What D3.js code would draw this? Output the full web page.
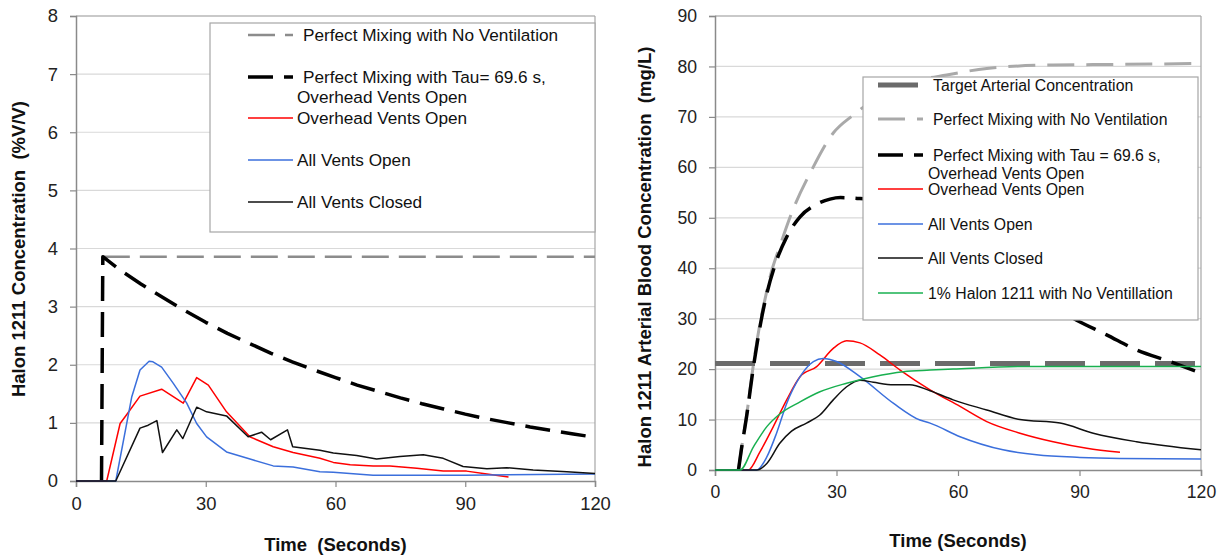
<!DOCTYPE html>
<html><head><meta charset="utf-8">
<script src="https://cdn.jsdelivr.net/npm/d3@7"></script>
<style>
html,body{margin:0;padding:0;background:#fff;}
svg{display:block;font-family:Arial,"Liberation Sans",sans-serif;}
text{white-space:pre;}
</style></head>
<body>
<svg id="c" width="1225" height="557"></svg>
<script>
// ---------- DATA ----------
const xTicks = [0, 30, 60, 90, 120];
const leftYTicks = [0, 1, 2, 3, 4, 5, 6, 7, 8];
const rightYTicks = [0, 10, 20, 30, 40, 50, 60, 70, 80, 90];

// Left chart: Halon 1211 concentration (%V/V) vs time (s)
const leftNoVent = [[6.2,3.86],[120,3.86]];
const leftTau = [[5.9,0],[6.2,3.86],[10,3.64],[15,3.39],[20,3.16],[25,2.94],[30,2.73],[35,2.54],[40,2.37],[45,2.20],[50,2.05],[55,1.91],[60,1.78],[65,1.65],[70,1.54],[75,1.43],[80,1.33],[85,1.24],[90,1.15],[95,1.07],[100,1.00],[105,0.93],[110,0.87],[115,0.81],[120,0.75]];
const leftOverhead = [[0,0],[7.1,0],[10.2,0.99],[11.7,1.14],[14.8,1.46],[19.8,1.58],[24.8,1.34],[27.9,1.78],[30.6,1.65],[34.8,1.19],[40.2,0.76],[45.6,0.59],[50.2,0.49],[56.4,0.39],[59.5,0.32],[63.4,0.28],[68.7,0.26],[72.6,0.26],[78.8,0.22],[84.9,0.17],[90.3,0.17],[95,0.12],[100,0.07]];
const leftAllOpen = [[0,0],[9.2,0],[12.9,1.45],[14.8,1.91],[16.9,2.06],[17.8,2.05],[19.8,1.96],[22.5,1.68],[25.6,1.34],[27.9,0.99],[30.2,0.76],[34.8,0.50],[41,0.36],[45.6,0.26],[50.2,0.24],[56.4,0.16],[59.5,0.15],[68.7,0.10],[90,0.10],[120,0.12]];
const leftAllClosed = [[0,0],[9.2,0],[14.8,0.91],[16.7,0.96],[18.7,1.04],[20.0,0.49],[23.3,0.88],[24.7,0.73],[27.9,1.27],[30.2,1.19],[34.8,1.12],[39.8,0.76],[42.9,0.84],[45,0.71],[48.9,0.88],[50.1,0.59],[56.4,0.53],[59.5,0.48],[64.9,0.44],[69.5,0.38],[74.9,0.42],[80.3,0.45],[84.9,0.39],[89.5,0.25],[95,0.21],[99.6,0.23],[105.7,0.19],[113.5,0.16],[120,0.13]];

// Right chart: arterial blood concentration (mg/L) vs time (s)
const rightTarget = [[0,21.1],[120,21.1]];
const rightNoVent = [[5.8,0],[6.5,4],[7.8,10.8],[9.5,21],[11.1,29],[12.8,35.5],[13.6,38.3],[16,44.3],[18.9,50.9],[23.9,59.5],[29.2,66.8],[34.2,70.4],[40,73.8],[45,75.8],[50,77.2],[57.2,78.3],[67.1,79.6],[83.5,80.3],[100,80.4],[120,80.6]];
const rightTau = [[5.8,0],[6.5,4],[7.8,10.6],[9.5,20.5],[11.1,28.4],[12.8,35],[14.8,40.6],[17.7,46.2],[21,50.2],[24.7,52.5],[28.4,53.7],[31,54],[35.8,53.8],[40,53.5],[45,52.5],[50,50.5],[60,45],[70,39],[80,34],[89.3,29.7],[96.7,26.8],[104.1,23.8],[112.3,21.5],[120,19.2]];
const rightOverhead = [[0,0],[8.2,0],[11.1,3.6],[14.4,8.6],[17.7,13.9],[21,18.5],[25.1,20.5],[29.2,24.1],[32.5,25.6],[35.8,25.2],[40.7,22.8],[45.7,19.8],[53.1,15.9],[60.5,12.6],[67.1,9.6],[75.3,7.3],[83.5,5.6],[91.8,4.3],[100,3.5]];
const rightAllOpen = [[0,0],[10.3,0],[12.8,2.6],[15.2,7.3],[17.7,13.2],[21,18.5],[24.3,21.5],[26.7,22.1],[30,21.5],[35.8,18.5],[44.1,13.2],[50.6,9.9],[53.1,9.3],[60.5,6.6],[71.1,4.0],[79.4,3.0],[90.1,2.5],[100,2.3],[120,2.2]];
const rightAllClosed = [[0,0],[10.3,0],[12.8,1.3],[16,5.3],[18.9,7.7],[22.6,9.3],[25.9,10.9],[29.2,13.9],[32.5,16.5],[35.8,17.8],[39.1,17.4],[44.1,16.9],[48.1,16.9],[53.1,15.7],[58.8,13.9],[67.1,11.9],[75.3,10.0],[85.2,9.3],[93.4,7.3],[104.1,5.6],[120,4.0]];
const rightOnePct = [[0,0],[6.2,0],[9.5,4.6],[12.8,8.6],[16,11.1],[21,13.5],[25.9,15.5],[32.5,17.2],[39.1,18.5],[46.5,19.5],[53.1,19.8],[58.8,20.0],[75.3,20.5],[120,20.5]];

const leftLabels = ["Perfect Mixing with No Ventilation", ["Perfect Mixing with Tau= 69.6 s,", "Overhead Vents Open"], "Overhead Vents Open", "All Vents Open", "All Vents Closed"];
const rightLabels = ["Target Arterial Concentration", "Perfect Mixing with No Ventilation", ["Perfect Mixing with Tau = 69.6 s,", "Overhead Vents Open"], "Overhead Vents Open", "All Vents Open", "All Vents Closed", "1% Halon 1211 with No Ventillation"];

// ---------- STYLES ----------
const ST = {
  leftNoVent:{stroke:"#8c8c8c", w:2.5, dash:"27,10"},
  tau:{stroke:"#000", w:3.5, dash:"25,11"},
  rightNoVent:{stroke:"#a9a9a9", w:3, dash:"27,12"},
  target:{stroke:"#6b6b6b", w:5, dash:"40,15"},
  red:{stroke:"#ff0000", w:1.5},
  blue:{stroke:"#3b6fdc", w:1.5},
  black:{stroke:"#111", w:1.5},
  green:{stroke:"#19b050", w:1.5}
};

const svg = d3.select("#c");
const gridC = "#d9d9d9", axC = "#8a8a8a";

function panel(o){
  const x = d3.scaleLinear().domain([0,120]).range([o.x0,o.x1]);
  const y = d3.scaleLinear().domain([0,o.ymax]).range([o.y0,o.y1]);
  const g = svg.append("g");
  g.selectAll(".gl").data(o.yTicks.filter(d=>d>0)).enter().append("line")
    .attr("x1",o.x0).attr("x2",o.x1).attr("y1",d=>y(d)).attr("y2",d=>y(d))
    .attr("stroke",gridC).attr("stroke-width",1.2);
  g.append("line").attr("x1",o.x0).attr("x2",o.x1).attr("y1",o.y1).attr("y2",o.y1).attr("stroke","#a6a6a6").attr("stroke-width",1.2);
  g.append("line").attr("x1",o.x1).attr("x2",o.x1).attr("y1",o.y1).attr("y2",o.y0).attr("stroke","#a6a6a6").attr("stroke-width",1.2);
  const ax = g.append("g").attr("transform",`translate(0,${o.y0})`)
    .call(d3.axisBottom(x).tickValues(xTicks).tickSize(6).tickPadding(10).tickFormat(d3.format("d")));
  const ay = g.append("g").attr("transform",`translate(${o.x0},0)`)
    .call(d3.axisLeft(y).tickValues(o.yTicks).tickSize(6).tickPadding(12).tickFormat(d3.format("d")));
  [ax,ay].forEach(a=>{
    a.select(".domain").attr("stroke",axC).attr("stroke-width",1.5);
    a.selectAll(".tick line").attr("stroke",axC).attr("stroke-width",1.2);
    a.selectAll("text").attr("fill","#222").style("font-size",o.tickFs+"px").style("font-family","Arial,'Liberation Sans',sans-serif");
  });
  return {x,y,g};
}

function drawLine(p, data, st, curve){
  const line = d3.line().x(d=>p.x(d[0])).y(d=>p.y(d[1])).curve(curve||d3.curveLinear);
  p.g.append("path").datum(data).attr("d",line).attr("fill","none")
    .attr("stroke",st.stroke).attr("stroke-width",st.w)
    .attr("stroke-dasharray",st.dash||null).attr("stroke-linejoin","round");
}

function legend(box, rows, fs){
  const g = svg.append("g");
  g.append("rect").attr("x",box.x).attr("y",box.y).attr("width",box.w).attr("height",box.h)
    .attr("fill","#fff").attr("stroke","#a6a6a6").attr("stroke-width",1.2);
  rows.forEach(r=>{
    g.append("line").attr("x1",box.sx0).attr("x2",box.sx1).attr("y1",r.y).attr("y2",r.y)
      .attr("stroke",r.st.stroke).attr("stroke-width",r.st.w).attr("stroke-dasharray",r.st.dash||null);
    const lines = Array.isArray(r.label)?r.label:[r.label];
    lines.forEach((t,i)=>{
      g.append("text").attr("x",i===0?r.tx:box.tx2).attr("y",r.y+i*(r.lh||0)).attr("dy","0.35em")
        .attr("fill","#111").style("font-size",fs+"px").text(t);
    });
  });
}

// ---------- LEFT ----------
const L = panel({x0:76,x1:595,y0:481,y1:16,ymax:8,yTicks:leftYTicks,tickFs:18.4});
drawLine(L, leftNoVent, ST.leftNoVent);
drawLine(L, leftTau, ST.tau);
drawLine(L, leftOverhead, ST.red);
drawLine(L, leftAllOpen, ST.blue);
drawLine(L, leftAllClosed, ST.black);
legend({x:210,y:23,w:385,h:209,sx0:248,sx1:293,tx2:297}, [
  {y:35, st:ST.leftNoVent, label:leftLabels[0], tx:303},
  {y:77, st:ST.tau, label:leftLabels[1], tx:303, lh:20},
  {y:118, st:ST.red, label:leftLabels[2], tx:297},
  {y:160, st:ST.blue, label:leftLabels[3], tx:297},
  {y:202, st:ST.black, label:leftLabels[4], tx:297}
], 17.2);
svg.append("text").attr("transform","translate(25,249) rotate(-90)").attr("text-anchor","middle")
  .style("font-size","18.5px").style("font-weight","bold").attr("fill","#111").text("Halon 1211 Concentration  (%V/V)");
svg.append("text").attr("x",335.5).attr("y",551).attr("text-anchor","middle")
  .style("font-size","18.5px").style("font-weight","bold").attr("fill","#111").text("Time  (Seconds)");

// ---------- RIGHT ----------
const R = panel({x0:715,x1:1201,y0:470,y1:16,ymax:90,yTicks:rightYTicks,tickFs:17.6});
const mono = d3.curveMonotoneX;
drawLine(R, rightTarget, ST.target);
drawLine(R, rightNoVent, ST.rightNoVent, mono);
drawLine(R, rightTau, ST.tau, mono);
drawLine(R, rightOverhead, ST.red, mono);
drawLine(R, rightAllOpen, ST.blue, mono);
drawLine(R, rightAllClosed, ST.black, mono);
drawLine(R, rightOnePct, ST.green, mono);
legend({x:863,y:77,w:335,h:243,sx0:878,sx1:923,tx2:928}, [
  {y:85, st:ST.target, label:rightLabels[0], tx:933},
  {y:119, st:ST.rightNoVent, label:rightLabels[1], tx:933},
  {y:155, st:ST.tau, label:rightLabels[2], tx:933, lh:18},
  {y:189, st:ST.red, label:rightLabels[3], tx:928},
  {y:224, st:ST.blue, label:rightLabels[4], tx:928},
  {y:258, st:ST.black, label:rightLabels[5], tx:928},
  {y:293, st:ST.green, label:rightLabels[6], tx:928}
], 15.8);
svg.append("text").attr("transform","translate(651,257) rotate(-90)").attr("text-anchor","middle")
  .style("font-size","18.5px").style("font-weight","bold").attr("fill","#111").text("Halon 1211 Arterial Blood Concentration  (mg/L)");
svg.append("text").attr("x",958).attr("y",547).attr("text-anchor","middle")
  .style("font-size","18.5px").style("font-weight","bold").attr("fill","#111").text("Time (Seconds)");
</script>
</body></html>
